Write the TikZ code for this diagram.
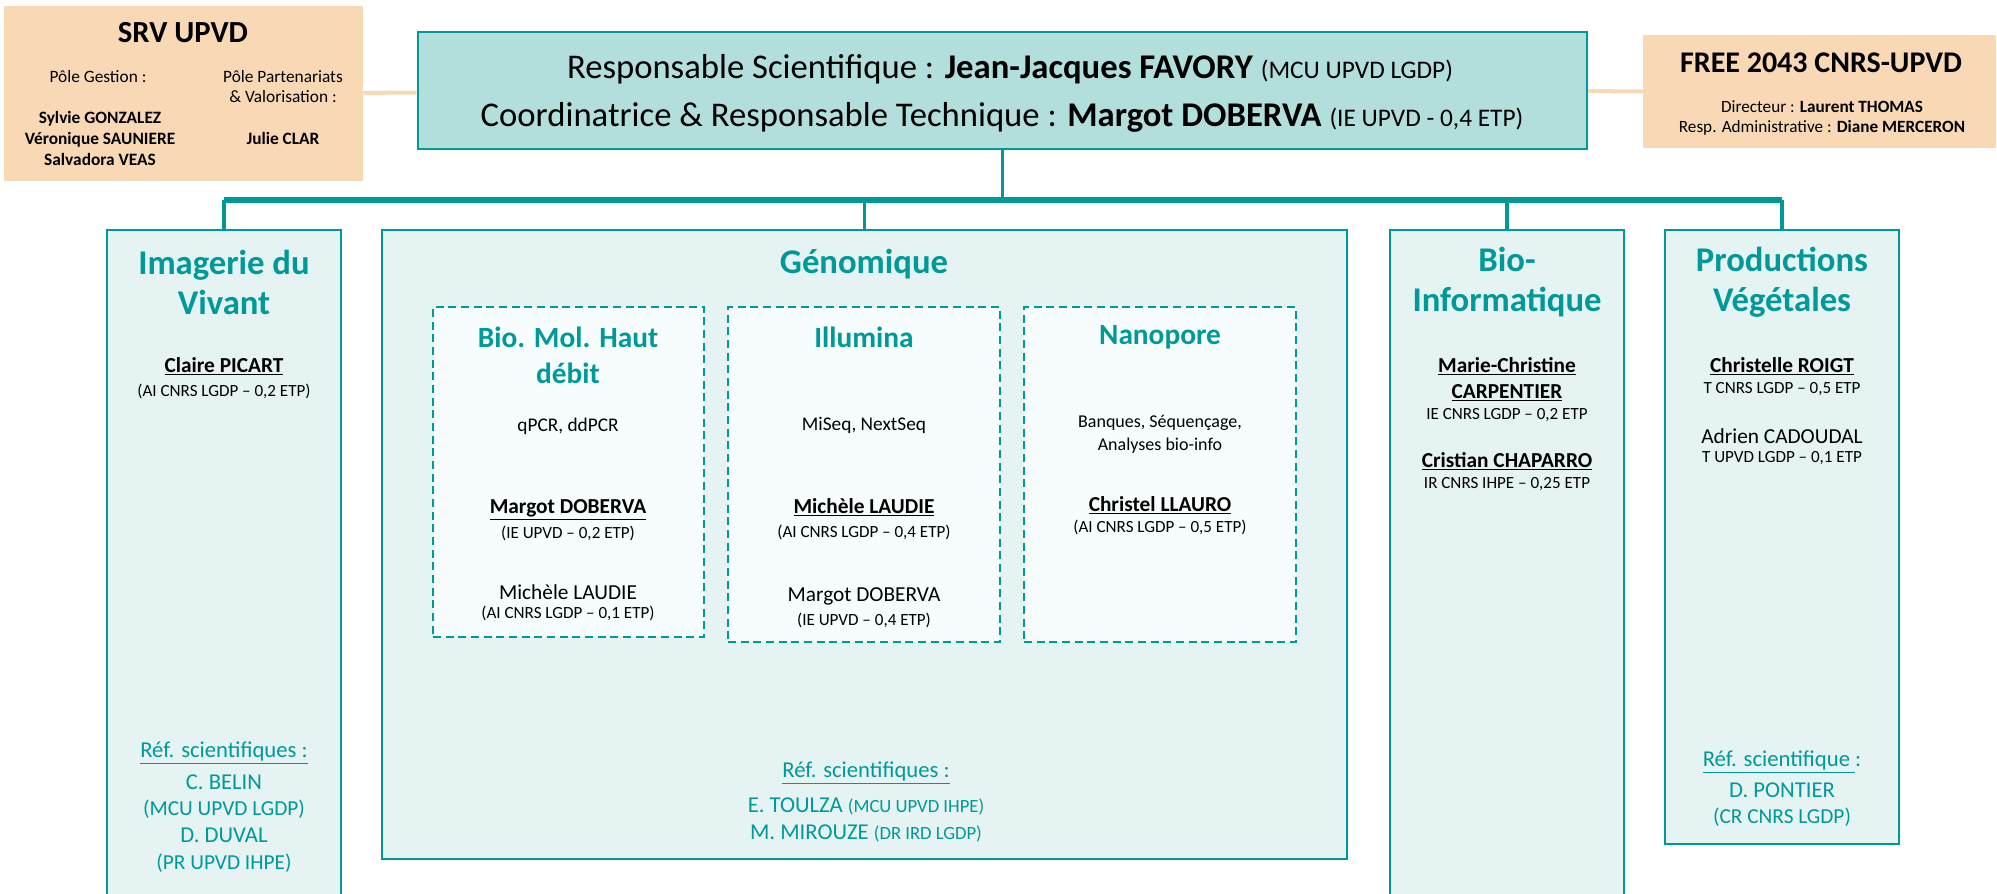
\documentclass[tikz,border=0pt]{standalone}
\usepackage{fontspec}
\setmainfont{Carlito}
\usetikzlibrary{fit}
\definecolor{tl}{HTML}{00999A}
\definecolor{tlhead}{HTML}{B2DFDC}
\definecolor{tldept}{HTML}{E5F4F3}
\definecolor{tlsub}{HTML}{F7FCFC}
\definecolor{org}{HTML}{F9D9B5}
\newcommand{\fs}[2]{\fontsize{#1}{#2}\selectfont}
\newcommand{\lead}[1]{\underline{\textbf{#1}}}

\begin{document}
\begin{tikzpicture}[
      x = 0.75pt, y = -0.75pt, % one unit = one pixel of the reference
      every node/.style = {inner sep = 0pt, align = center},
      orgbox/.style = {fill = org},
      headbox/.style = {draw = tl, fill = tlhead, line width = 2pt},
      deptbox/.style = {draw = tl, fill = tldept, line width = 1.6pt},
      subbox/.style = {draw = tl, fill = tlsub, line width = 1.3pt,
        dash pattern = on 6pt off 3.5pt},
      depttitle/.style = {text = tl, font = \fs{26}{30}\bfseries},
      subtitle/.style = {text = tl, font = \fs{22}{27}\bfseries},
      pers/.style = {font = \fs{16}{19.5}},
      grade/.style = {font = \fs{12.8}{15}},
      task/.style = {font = \fs{14.5}{17}},
      refname/.style = {text = tl, font = \fs{17}{20}},
      refgrade/.style = {text = tl, font = \fs{16}{20}},
      busline/.style = {draw = tl, line width = 4.5pt},
      drop/.style = {draw = tl, line width = 2.5pt},
      link/.style = {draw = org, line width = 3pt},
    ]
    \useasboundingbox (0,0) rectangle (1997,893);

    % boxes
    \node[orgbox, fit={(4,6) (363,181)}] (srv) {};
    \node[headbox, fit={(418,32) (1587,149)}] (head) {};
    \node[orgbox, fit={(1643,35) (1996,148)}] (free) {};
    \node[deptbox, fit={(107,230) (341,905)}] (img) {};
    \node[deptbox, fit={(382,230) (1347,859)}] (geno) {};
    \node[deptbox, fit={(1390,230) (1624,905)}] (bioinfo) {};
    \node[deptbox, fit={(1665,230) (1899,844)}] (prod) {};
    \node[subbox, fit={(433,307) (704,637)}] (biomol) {};
    \node[subbox, fit={(728,307) (1000,642)}] (illu) {};
    \node[subbox, fit={(1024,307) (1296,642)}] (nano) {};

    % links
    \coordinate (bus) at (1002,200);
    \draw[link] (srv) -- (head);
    \draw[link] (head) -- (free);
    \draw[drop] (head.south) -- (head.south |- bus);
    \draw[busline] (img.north |- bus) -- (prod.north |- bus);
    \foreach \d in {img, geno, bioinfo, prod}
      \draw[drop] (\d.north |- bus) -- (\d.north);

    % SRV UPVD
    \node[font=\fs{23}{28}\bfseries] (srvt) at (183,33) {SRV UPVD};
    \node[font=\fs{13}{15}] (gest) at (98,77) {Pôle Gestion :};
    \node[font=\fs{13}{15}] (part) at (283,87) {Pôle Partenariats\\\& Valorisation :};
    \node[font=\fs{13}{15.4}\bfseries] (gestn) at (100,138.5) {Sylvie GONZALEZ\\Véronique SAUNIERE\\Salvadora VEAS};
    \node[font=\fs{13}{15}\bfseries] (partn) at (283,138) {Julie CLAR};

    % head
    \node[font=\fs{26}{30}] (resp) at (1010,69) {Responsable Scientifique : \textbf{Jean-Jacques FAVORY} {\fs{19}{22}(MCU UPVD LGDP)}};
    \node[font=\fs{26}{30}] (coord) at (1002,117) {Coordinatrice \& Responsable Technique : \textbf{Margot DOBERVA} {\fs{19}{22}(IE UPVD - 0,4 ETP)}};

    % FREE
    \node[font=\fs{22.5}{26}\bfseries] (freet) at (1821,63) {FREE 2043 CNRS-UPVD};
    \node[font=\fs{12.9}{15}] (freen) at (1822,118) {Directeur : \textbf{Laurent THOMAS}\\Resp. Administrative : \textbf{Diane MERCERON}};

    % department titles
    \node[depttitle] (imgt) at (224,282) {Imagerie du\\Vivant};
    \node[depttitle] (genot) at (864,264) {Génomique};
    \node[depttitle] (bioinfot) at (1507,282) {Bio-\\Informatique};
    \node[depttitle] (prodt) at (1782,282) {Productions\\Végétales};

    % genomique platforms
    \node[subtitle] (biomolt) at (568,355) {Bio. Mol. Haut\\débit};
    \node[subtitle] (illut) at (864,337) {Illumina};
    \node[subtitle] (nanot) at (1160,337) {Nanopore};
    \node[task] (biomold) at (568,426) {qPCR, ddPCR};
    \node[task] (illud) at (864,425) {MiSeq, NextSeq};
    \node[task, font=\fs{13.5}{17}] (nanod) at (1160,434.5) {Banques, Séquençage,\\Analyses bio-info};

    \node[pers] (biomolp1) at (568,510) {\lead{Margot DOBERVA}};
    \node[grade] (biomolg1) at (568,533) {(IE UPVD -- 0,2 ETP)};
    \node[pers] (biomolp2) at (568,592) {Michèle LAUDIE};
    \node[grade] (biomolg2) at (568,613) {(AI CNRS LGDP -- 0,1 ETP)};

    \node[pers] (illup1) at (864,507) {\lead{Michèle LAUDIE}};
    \node[grade] (illug1) at (864,532) {(AI CNRS LGDP -- 0,4 ETP)};
    \node[pers] (illup2) at (864,596) {Margot DOBERVA};
    \node[grade] (illug2) at (864,620) {(IE UPVD -- 0,4 ETP)};

    \node[pers] (nanop1) at (1160,505) {\lead{Christel LLAURO}};
    \node[grade] (nanog1) at (1160,527) {(AI CNRS LGDP -- 0,5 ETP)};

    % imagerie
    \node[pers] (imgp1) at (224,366) {\lead{Claire PICART}};
    \node[grade] (imgg1) at (224,391) {(AI CNRS LGDP -- 0,2 ETP)};

    % bio-informatique
    \node[pers] (bioinfop1) at (1507,379) {\lead{Marie-Christine}\\\lead{CARPENTIER}};
    \node[grade] (bioinfog1) at (1507,415) {IE CNRS LGDP -- 0,2 ETP};
    \node[pers] (bioinfop2) at (1507,461) {\lead{Cristian CHAPARRO}};
    \node[grade] (bioinfog2) at (1507,484) {IR CNRS IHPE -- 0,25 ETP};

    % productions vegetales
    \node[pers] (prodp1) at (1782,366) {\lead{Christelle ROIGT}};
    \node[grade] (prodg1) at (1782,389) {T CNRS LGDP -- 0,5 ETP};
    \node[pers] (prodp2) at (1782,436) {Adrien CADOUDAL};
    \node[grade] (prodg2) at (1782,458) {T UPVD LGDP -- 0,1 ETP};

    % scientific referents
    \node[refname] (imgr) at (224,753) {\underline{Réf. scientifiques :}};
    \node[refname] (imgr1) at (224,782) {C. BELIN};
    \node[refgrade] (imgr1g) at (224,809) {(MCU UPVD LGDP)};
    \node[refname] (imgr2) at (224,835) {D. DUVAL};
    \node[refgrade] (imgr2g) at (224,863) {(PR UPVD IHPE)};

    \node[refname] (genor) at (866,773) {\underline{Réf. scientifiques :}};
    \node[refname] (genor1) at (866,806) {E. TOULZA {\fs{14}{17}(MCU UPVD IHPE)}};
    \node[refname] (genor2) at (866,833) {M. MIROUZE {\fs{14}{17}(DR IRD LGDP)}};

    \node[refname] (prodr) at (1782,762) {\underline{Réf. scientifique }:};
    \node[refname] (prodr1) at (1782,790) {D. PONTIER};
    \node[refgrade] (prodr1g) at (1782,817) {(CR CNRS LGDP)};
  \end{tikzpicture}
\end{document}
